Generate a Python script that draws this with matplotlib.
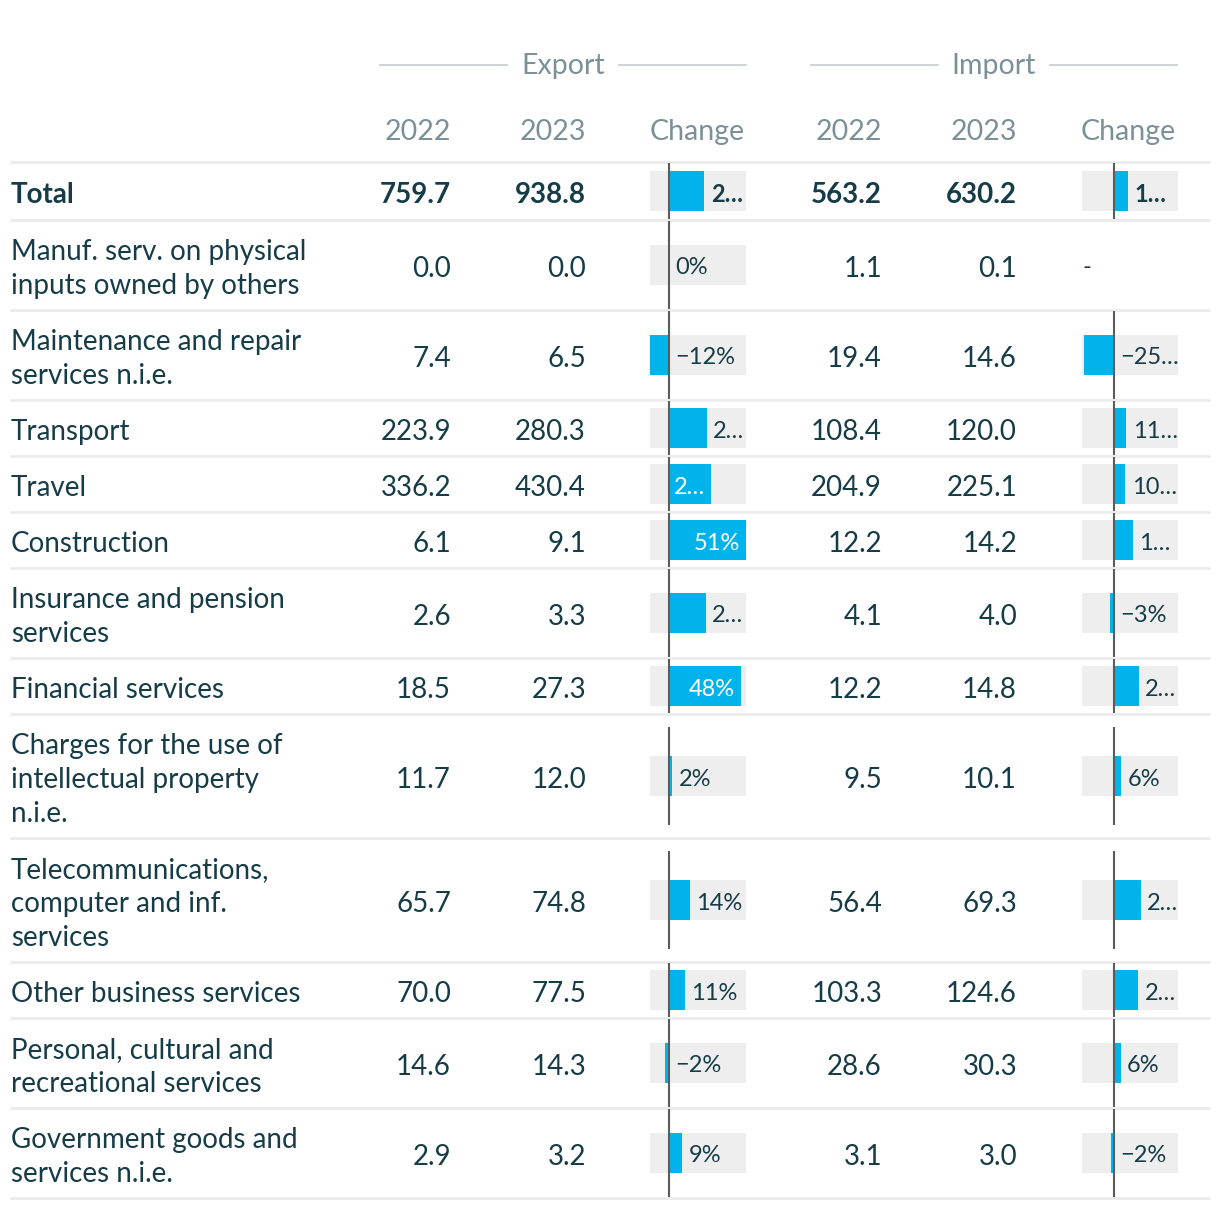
import numpy as np
import matplotlib.pyplot as plt

plt.rcParams['font.family'] = ['Lato', 'DejaVu Sans']

# Data
categories = ["Total",
              "Manuf. serv. on physical\ninputs owned by others",
              "Maintenance and repair\nservices n.i.e.",
              "Transport",
              "Travel",
              "Construction",
              "Insurance and pension\nservices",
              "Financial services",
              "Charges for the use of\nintellectual property\nn.i.e.",
              "Telecommunications,\ncomputer and inf.\nservices",
              "Other business services",
              "Personal, cultural and\nrecreational services",
              "Government goods and\nservices n.i.e."]
export_2022 = [759.7, 0.0, 7.4, 223.9, 336.2, 6.1, 2.6, 18.5, 11.7, 65.7, 70.0, 14.6, 2.9]
export_2023 = [938.8, 0.0, 6.5, 280.3, 430.4, 9.1, 3.3, 27.3, 12.0, 74.8, 77.5, 14.3, 3.2]
export_change = [23.6, 0.0, -12.2, 25.2, 28.0, 51.0, 24.5, 48.0, 2.4, 13.9, 10.7, -2.1, 9.0]
export_labels = ["2…", "0%", "−12%", "2…", "2…", "51%", "2…", "48%", "2%", "14%", "11%", "−2%", "9%"]
import_2022 = [563.2, 1.1, 19.4, 108.4, 204.9, 12.2, 4.1, 12.2, 9.5, 56.4, 103.3, 28.6, 3.1]
import_2023 = [630.2, 0.1, 14.6, 120.0, 225.1, 14.2, 4.0, 14.8, 10.1, 69.3, 124.6, 30.3, 3.0]
import_change = [11.9, None, -24.7, 10.7, 9.9, 16.4, -2.7, 21.3, 6.3, 22.9, 20.6, 5.9, -2.3]
import_labels = ["1…", "-", "−25…", "11…", "10…", "1…", "−3%", "2…", "6%", "2…", "2…", "6%", "−2%"]

# Style
TEXT = '#163c47'
HEAD = '#7c9098'
GRID = '#ebebeb'
BLUE = '#00b3ea'
CELL = '#eeeeee'
ZERO = '#5c5c5c'
W, H = 1220, 1210
FS = 20
FS_HEAD = 20.5
FS_BAR = 17

fig = plt.figure(figsize=(12.2, 12.1), dpi=100)
ax = fig.add_axes([0, 0, 1, 1])
ax.set_xlim(0, W)
ax.set_ylim(H, 0)
ax.axis('off')

# row geometry from the number of label lines
nlines = [c.count('\n') + 1 for c in categories]
heights = [22 + 34 * n for n in nlines]
heights[0] = 58
tops = 162 + np.concatenate([[0], np.cumsum(heights)[:-1]])
bottoms = tops + np.array(heights)
centers = tops + np.array(heights) / 2

# headers
for cx, name in [(563, 'Export'), (994, 'Import')]:
    ax.text(cx, 66, name, ha='center', va='center', fontsize=FS_HEAD, color=HEAD)
    ax.plot([cx - 183, cx - 56], [65, 65], color='#c9d1d4', lw=1.3)
    ax.plot([cx + 56, cx + 183], [65, 65], color='#c9d1d4', lw=1.3)

num_cols = [451, 586, 882, 1017]
for x, t in zip(num_cols, ['2022', '2023', '2022', '2023']):
    ax.text(x, 132, t, ha='right', va='center', fontsize=FS_HEAD, color=HEAD)
ax.text(697, 132, 'Change', ha='center', va='center', fontsize=FS_HEAD, color=HEAD)
ax.text(1128, 132, 'Change', ha='center', va='center', fontsize=FS_HEAD, color=HEAD)

ax.hlines(np.concatenate([[162], bottoms]), 10, 1210, color=GRID, lw=2)

# text cells
for i, cat in enumerate(categories):
    w = 'bold' if i == 0 else 'normal'
    y = centers[i] + 4
    ax.text(11, y, cat, ha='left', va='center', fontsize=FS, color=TEXT,
            fontweight=w, linespacing=1.36)
    for x, col in zip(num_cols, [export_2022, export_2023, import_2022, import_2023]):
        ax.text(x, y, f"{col[i]:.1f}", ha='right', va='center', fontsize=FS,
                color=TEXT, fontweight=w)


def change_column(x0, width, values, labels, lo, hi):
    bx = fig.add_axes([x0 / W, 0, width / W, 1])
    bx.set_xlim(lo, hi)
    bx.set_ylim(H, 0)
    bx.axis('off')
    for i, (v, lab) in enumerate(zip(values, labels)):
        w = 'bold' if i == 0 else 'normal'
        y = centers[i]
        if v is None:
            bx.annotate(lab, (lo, y + 3), ha='left', va='center', fontsize=FS_BAR, color=TEXT)
            continue
        bx.barh(y, hi - lo, left=lo, height=40, color=CELL)
        bx.barh(y, v, left=0, height=40, color=BLUE)
        gap = 12 if heights[i] > 100 else 0
        bx.vlines(0, tops[i] + gap + 1, bottoms[i] - gap - 1, color=ZERO, lw=1.5)
        inside = v > 0 and v > (hi - v)
        if inside:
            bx.annotate(lab, (v, y + 3), xytext=(-4.5, 0), textcoords='offset points',
                        ha='right', va='center', fontsize=FS_BAR, color='white', fontweight=w)
        else:
            bx.annotate(lab, (max(v, 0), y + 3), xytext=(4.5, 0), textcoords='offset points',
                        ha='left', va='center', fontsize=FS_BAR, color=TEXT, fontweight=w)


change_column(650, 96, export_change, export_labels, -12.2, 51.0)
change_column(1082, 96, import_change, import_labels, -26.5, 54.0)

fig.savefig('out.png', dpi=100)
